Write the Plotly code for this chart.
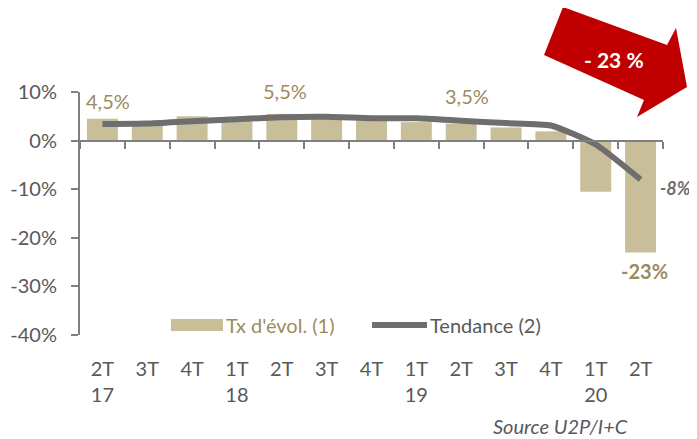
import plotly.graph_objects as go

# ---- data ----
quarters = ["2T<br>17", "3T", "4T", "1T<br>18", "2T", "3T", "4T", "1T<br>19", "2T", "3T", "4T", "1T<br>20", "2T"]
tx_evol = [4.5, 3.5, 5.0, 4.5, 5.5, 5.0, 4.7, 3.8, 3.5, 2.7, 1.9, -10.5, -23.0]
tendance = [3.4, 3.5, 4.0, 4.4, 4.8, 4.9, 4.6, 4.6, 4.1, 3.6, 3.1, -0.8, -8.0]
bar_labels = ["4,5%", "", "", "", "5,5%", "", "", "", "3,5%", "", "", "", "-23%"]
trend_last_label = "-8%"
y_ticks = [-40, -30, -20, -10, 0, 10]
y_ticktext = ["-40%", "-30%", "-20%", "-10%", "0%", "10%"]

# ---- styles ----
FONT = "Lato"
BAR_COL = "#C8BE9A"
LAB_COL = "#9C8C5C"
LINE_COL = "#6E6E6E"
AX_COL = "#808080"
TXT_COL = "#595959"
RED = "#C00000"

n = len(quarters)
xs = list(range(n))

fig = go.Figure()
fig.add_trace(go.Bar(x=xs, y=tx_evol, marker=dict(color=BAR_COL, line=dict(width=0)),
                     name="Tx d'évol. (1)", showlegend=False))
fig.add_trace(go.Scatter(x=xs, y=tendance, xaxis="x2", yaxis="y", mode="lines",
                         line=dict(color=LINE_COL, width=6, shape="spline", smoothing=0.5),
                         name="Tendance (2)", showlegend=False))

# label offsets (pixels)
label_shift = {0: (6, 18), 4: (3, 23), 8: (6, 28), 12: (4, -19)}
for i, t in enumerate(bar_labels):
    if not t:
        continue
    dx, dy = label_shift.get(i, (0, 12))
    bold = tx_evol[i] < 0
    fig.add_annotation(x=xs[i], y=tx_evol[i], text=f"<b>{t}</b>" if bold else t, showarrow=False,
                       xanchor="center", yanchor="middle",
                       xshift=dx, yshift=dy, font=dict(family=FONT, size=20, color=LAB_COL))
fig.add_annotation(x=xs[-1], y=tendance[-1], text=f"<b><i>{trend_last_label}</i></b>", showarrow=False,
                   xanchor="center", yanchor="middle",
                   xshift=35, yshift=-9, font=dict(family=FONT, size=18, color=LINE_COL))

# page body has an 8px margin: figure is drawn 8px in from the window corner
OFF = 8
W, H = 697 - OFF, 439 - OFF
PX0, PX1, PY0, PY1 = 80, 663, 92, 335   # plot area in window pixels
L, R, T, B = PX0 - OFF, 697 - PX1, PY0 - OFF, 439 - PY1
pw, ph = PX1 - PX0, PY1 - PY0
def px(xp):
    return (xp - PX0) / pw
def py(yp):
    return (PY1 - yp) / ph

# red arrow
pts = [(563, 7), (667, 45), (676, 28), (687, 87), (637, 117), (644, 100), (544, 55)]
path = "M " + " L ".join(f"{px(a):.4f},{py(b):.4f}" for a, b in pts) + " Z"
fig.add_shape(type="path", path=path, xref="paper", yref="paper", fillcolor=RED, line=dict(width=0), layer="above")
fig.add_annotation(x=px(614), y=py(59), xref="paper", yref="paper", text="<b>- 23 %</b>", showarrow=False,
                   xanchor="center", yanchor="middle",
                   font=dict(family=FONT, size=21, color="white"))

# manual legend
fig.add_shape(type="rect", xref="paper", yref="paper", x0=px(171), x1=px(223), y0=py(331), y1=py(319),
              fillcolor=BAR_COL, line=dict(width=0))
fig.add_annotation(x=px(224), y=py(325), xref="paper", yref="paper", xanchor="left", yanchor="middle",
                   text="Tx d'évol. (1)", showarrow=False, font=dict(family=FONT, size=20, color=LAB_COL))
fig.add_shape(type="line", xref="paper", yref="paper", x0=px(372), x1=px(427), y0=py(325), y1=py(325),
              line=dict(color=LINE_COL, width=6))
fig.add_annotation(x=px(428), y=py(325), xref="paper", yref="paper", xanchor="left", yanchor="middle",
                   text="Tendance (2)", showarrow=False, font=dict(family=FONT, size=20, color=TXT_COL))

# source
fig.add_annotation(x=px(630), y=py(426), xref="paper", yref="paper", xanchor="right", yanchor="middle",
                   text="<i>Source U2P/I+C</i>", showarrow=False, font=dict(family=FONT, size=20, color=TXT_COL))

yr = [y_ticks[0], y_ticks[-1]]
zero_pos = (0 - yr[0]) / (yr[1] - yr[0])

fig.update_layout(
    width=W, height=H, margin=dict(l=L, r=R, t=T, b=B, autoexpand=False),
    paper_bgcolor="white", plot_bgcolor="white", bargap=0.31,
    font=dict(family=FONT, color=TXT_COL),
    xaxis=dict(range=[-0.5, n - 0.5], tickvals=xs, ticktext=quarters, showline=False, ticks="",
               showgrid=False, zeroline=False, tickfont=dict(family=FONT, size=20, color=TXT_COL),
               ticklabelstandoff=20, automargin=False),
    xaxis2=dict(overlaying="x", anchor="free", position=zero_pos, side="bottom", range=[-0.5, n - 0.5],
                tickvals=[k - 0.5 for k in range(n + 1)], ticks="outside", ticklen=7, tickwidth=2,
                tickcolor=AX_COL, showline=True, linecolor=AX_COL, linewidth=2, showticklabels=False,
                showgrid=False, zeroline=False, automargin=False),
    yaxis=dict(range=yr, tickvals=y_ticks, ticktext=y_ticktext, ticks="outside", ticklen=7, tickwidth=2,
               tickcolor=AX_COL, showline=True, linecolor=AX_COL, linewidth=2, showgrid=False, zeroline=False,
               tickfont=dict(family=FONT, size=20, color=TXT_COL), ticklabelstandoff=10, automargin=False),
)

fig.write_html("out.html")
